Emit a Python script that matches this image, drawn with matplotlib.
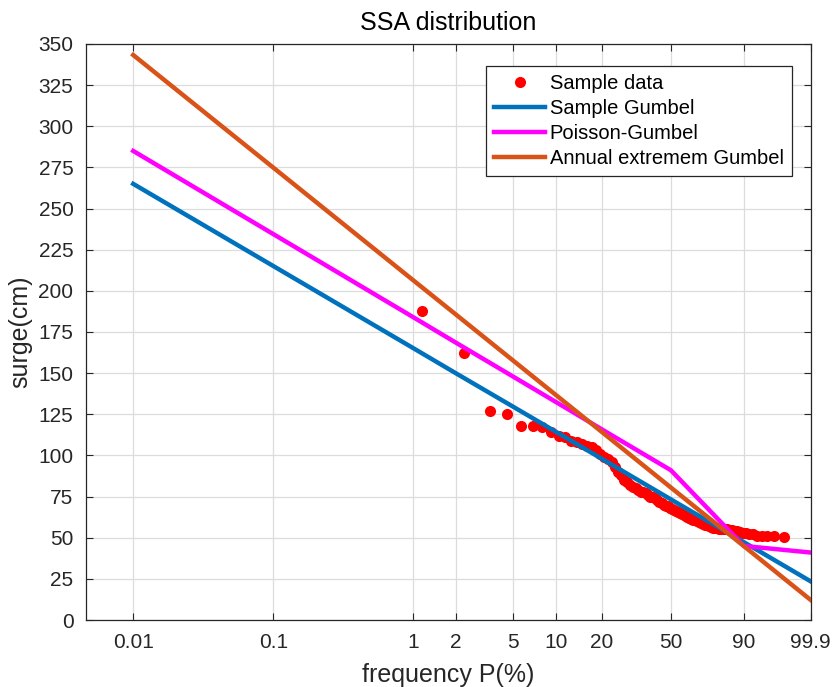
import numpy as np
import matplotlib
matplotlib.use("Agg")
import matplotlib.pyplot as plt
from matplotlib.ticker import FixedLocator, FixedFormatter

plt.rcParams['font.family'] = ['Liberation Sans', 'DejaVu Sans']

# Exceedance frequencies (%) used for the fitted curves / tick marks
freq_ticks = [0.01, 0.1, 1, 2, 5, 10, 20, 50, 90, 99.9]
freq_tick_labels = ['0.01', '0.1', '1', '2', '5', '10', '20', '50', '90', '99.9']

# Fitted curves evaluated at the tick frequencies (cm)
sample_gumbel = [265.0, 215.1, 165.1, 149.9, 129.8, 114.2, 97.9, 73.3, 47.3, 23.5]
poisson_gumbel = [285.0, 234.5, 183.9, 168.5, 148.1, 132.3, 115.8, 91.0, 45.0, 41.0]
annual_gumbel = [343.3, 274.9, 206.3, 185.6, 157.9, 136.5, 114.2, 80.5, 44.9, 12.2]

# Ranked sample surges (cm), plotted at empirical frequency m/(n+1)
sample_surge = [188, 162, 127, 125, 118, 118, 117, 114, 112, 111,
                109, 108, 107, 106, 105, 103, 101, 99, 98, 96,
                93, 90, 88, 85, 84, 82, 81, 80, 79, 78,
                77.5, 77, 76, 75, 74.5, 74, 73, 72, 71, 70,
                69.5, 69, 68, 67.5, 67, 66, 65.5, 65, 64.5, 64,
                63, 62.5, 62, 61.5, 61, 60.5, 60, 59.5, 59, 58.5,
                58, 57.5, 57, 56.5, 56, 56, 56, 55.5, 55.5, 55,
                55, 55, 54.5, 54.5, 54, 54, 53.5, 53, 53, 52,
                52, 51, 51, 51, 51, 50.5]

yticks = list(range(0, 351, 25))


def gumbel_axis(p_percent):
    """Map exceedance frequency (%) onto the Gumbel probability axis."""
    p = np.asarray(p_percent, dtype=float) / 100.0
    return np.log(-np.log(1.0 - p))


n = len(sample_surge)
rank = np.arange(1, n + 1)
sample_freq = rank / (n + 1) * 100.0

fig = plt.figure(figsize=(8.34, 6.87), dpi=100)
ax = fig.add_axes([0.103, 0.0975, 0.869, 0.8385])

xt = gumbel_axis(freq_ticks)

ax.plot(gumbel_axis(sample_freq), sample_surge, 'o', color='#FF0000',
        markersize=8, markeredgewidth=0, label='Sample data', zorder=3)
ax.plot(xt, sample_gumbel, '-', color='#0072BD', lw=3.2, label='Sample Gumbel', zorder=4)
ax.plot(xt, poisson_gumbel, '-', color='#FF00FF', lw=3.2, label='Poisson-Gumbel', zorder=4)
ax.plot(xt, annual_gumbel, '-', color='#D95319', lw=3.2, label='Annual extremem Gumbel', zorder=4)

left = xt[0] - (xt[1] - xt[0]) * 0.338
ax.set_xlim(left, xt[-1])
ax.set_ylim(0, 350)

ax.xaxis.set_major_locator(FixedLocator(xt))
ax.xaxis.set_major_formatter(FixedFormatter(freq_tick_labels))
ax.set_yticks(yticks)

ax.grid(True, color='#DCDCDC', lw=0.9)
ax.set_axisbelow(True)
ax.tick_params(direction='in', top=True, right=True, length=5, width=0.8,
               labelsize=15, colors='#262626')
ax.tick_params(axis='x', pad=9)
ax.tick_params(axis='y', pad=9)
for s in ax.spines.values():
    s.set_color('#262626')
    s.set_linewidth(0.9)

ax.set_xlabel('frequency P(%)', fontsize=18, color='#262626', labelpad=8)
ax.set_ylabel('surge(cm)', fontsize=18, color='#262626', labelpad=4)
ax.set_title('SSA distribution', fontsize=18, color='#000000', pad=10)

leg = ax.legend(loc='upper right', bbox_to_anchor=(0.974, 0.962), fontsize=14.5,
                frameon=True, fancybox=False, edgecolor='#262626', framealpha=1,
                handlelength=2.5, handletextpad=0.25, labelspacing=0.3,
                borderpad=0.4, borderaxespad=0)
leg.get_frame().set_linewidth(0.9)

fig.savefig('out.png', dpi=100, facecolor='white')
